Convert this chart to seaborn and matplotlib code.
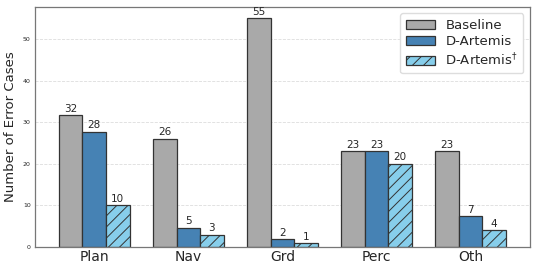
import matplotlib
matplotlib.use('Agg')

import pandas as pd
import matplotlib.pyplot as plt
import seaborn as sns

# 数据
categories = ["Plan", "Nav", "Grd", "Perc", "Oth"]
methods = ["Baseline", "D-Artemis", "D-Artemis$^{\\dagger}$"]
baseline = [31.7, 26, 55, 23, 23]
d_artemis = [27.7, 4.6, 1.8, 23, 7.4]
d_artemis_dag = [10, 3, 0.9, 20, 4]

colors = ["#a9a9a9", "#4682b4", "#87ceeb"]

rows = []
for m, vals in zip(methods, [baseline, d_artemis, d_artemis_dag]):
    for c, v in zip(categories, vals):
        rows.append({"cat": c, "method": m, "value": v})
df = pd.DataFrame(rows)

sns.set_style("white")
plt.rcParams['font.family'] = ['DejaVu Sans']
plt.rcParams['hatch.linewidth'] = 0.7
plt.rcParams['hatch.color'] = '#222222'

fig, ax = plt.subplots(figsize=(5.38, 2.65), dpi=100)
sns.barplot(data=df, x="cat", y="value", hue="method", order=categories,
            hue_order=methods, palette=colors, width=0.75, saturation=1,
            edgecolor="#333333", linewidth=0.9, legend=False, ax=ax)

# 第三组加斜线
for p in ax.containers[2]:
    p.set_hatch("///")

for cont in ax.containers:
    ax.bar_label(cont, fmt="%.0f", padding=1, fontsize=7.5)

ax.set_ylim(0, 57.75)
ax.set_xlim(-0.63, 4.63)
ax.set_xlabel("")
ax.set_ylabel("Number of Error Cases", fontsize=9.5)
ax.tick_params(axis="x", labelsize=10, length=2, pad=0.5)
ax.tick_params(axis="y", labelsize=4.5, length=2, pad=1)
ax.yaxis.grid(True, linestyle="--", color="#dddddd", linewidth=0.6)
ax.set_axisbelow(True)
for s in ax.spines.values():
    s.set_color("#777777")
    s.set_linewidth(0.9)

ax.legend(ax.containers, methods, loc="upper right", fontsize=9.5,
          handlelength=2.2, handleheight=0.7, labelspacing=0.25,
          borderpad=0.4, framealpha=1, edgecolor="#dddddd")

fig.subplots_adjust(left=0.065, right=0.985, top=0.974, bottom=0.068)
fig.savefig("out.png", dpi=100)
plt.close()
